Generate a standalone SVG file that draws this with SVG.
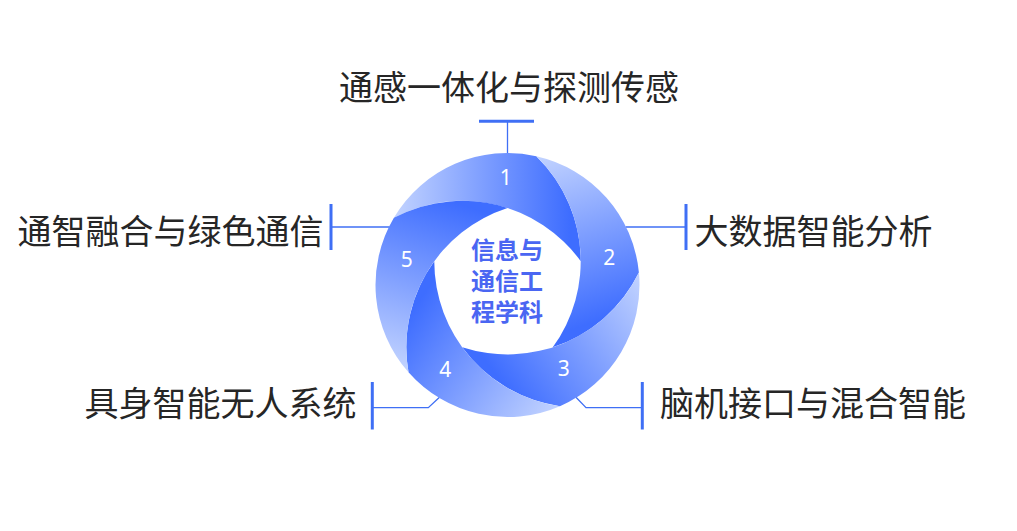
<svg xmlns="http://www.w3.org/2000/svg" xmlns:xlink="http://www.w3.org/1999/xlink" width="1017" height="531" viewBox="0 0 1017 531">
  <style>
    .lbl { font-family: 'Noto Sans CJK SC', 'Noto Sans', sans-serif; font-size: 34px; fill: #262626; }
    .num { font-family: 'Noto Sans', 'Liberation Sans', sans-serif; font-size: 21px; fill: #ffffff; text-anchor: middle; }
    .center { font-family: 'Noto Sans CJK SC', sans-serif; font-size: 24px; font-weight: bold; fill: #4a66f2; text-anchor: middle; }
    .bar { stroke: #3f6ff5; stroke-width: 3; fill: none; }
    .wire { stroke: #3f6ff5; stroke-width: 1.3; fill: none; }
  </style>
  <defs>
    <linearGradient id="bladeGrad" gradientUnits="userSpaceOnUse" x1="-99" y1="87" x2="-45" y2="-80">
      <stop offset="0" stop-color="#c2d3ff"/>
      <stop offset="0.5" stop-color="#7f9fff"/>
      <stop offset="1" stop-color="#3e6dff"/>
    </linearGradient>
    <path id="blade" fill="url(#bladeGrad)" d="M -113.61 -67.19 A 146.46 146.46 0 0 1 0 -77 A 146.46 146.46 0 0 0 -99.02 87.29 A 132 132 0 0 1 -113.61 -67.19 Z"/>
  </defs>
  <rect width="1017" height="531" fill="#ffffff"/>

  <g id="connectors">
    <line class="wire" x1="507.5" y1="121" x2="507.5" y2="153.5"/>
    <line class="bar" x1="479" y1="121.3" x2="534" y2="121.3"/>
    <line class="wire" x1="331" y1="227" x2="389.5" y2="227"/>
    <line class="bar" x1="331" y1="204" x2="331" y2="250"/>
    <line class="wire" x1="625.5" y1="227" x2="686" y2="227"/>
    <line class="bar" x1="686" y1="204" x2="686" y2="250"/>
    <polyline class="wire" points="372,407.7 428.3,407.7 439.5,397.3"/>
    <line class="bar" x1="372.3" y1="382" x2="372.3" y2="429.5"/>
    <polyline class="wire" points="642.3,407.7 586,407.7 576,397.3"/>
    <line class="bar" x1="642.3" y1="382" x2="642.3" y2="429.5"/>
  </g>

  <g id="ring" transform="translate(507.5,285)">
    <g id="node-1"><use xlink:href="#blade" href="#blade" transform="rotate(72)"/></g>
    <g id="node-2"><use xlink:href="#blade" href="#blade" transform="rotate(144)"/></g>
    <g id="node-3"><use xlink:href="#blade" href="#blade" transform="rotate(216)"/></g>
    <g id="node-4"><use xlink:href="#blade" href="#blade" transform="rotate(288)"/></g>
    <g id="node-5"><use xlink:href="#blade" href="#blade"/></g>
  </g>

  <g id="numbers">
    <text class="num" x="505.8" y="184.6">1</text>
    <text class="num" x="609.2" y="264.6">2</text>
    <text class="num" x="563.8" y="375.8">3</text>
    <text class="num" x="445.2" y="376.6">4</text>
    <text class="num" x="406.7" y="266.6">5</text>
  </g>

  <g id="center-node">
    <text class="center" x="507" y="259"><tspan x="507" y="259">信息与</tspan><tspan x="507" y="290">通信工</tspan><tspan x="507" y="321">程学科</tspan></text>
  </g>

  <g id="label-1"><text class="lbl" x="509" y="99.5" text-anchor="middle">通感一体化与探测传感</text></g>
  <g id="label-2"><text class="lbl" x="694.5" y="244">大数据智能分析</text></g>
  <g id="label-3"><text class="lbl" x="660" y="416">脑机接口与混合智能</text></g>
  <g id="label-4"><text class="lbl" x="356.5" y="416" text-anchor="end">具身智能无人系统</text></g>
  <g id="label-5"><text class="lbl" x="323.5" y="244" text-anchor="end">通智融合与绿色通信</text></g>
</svg>
